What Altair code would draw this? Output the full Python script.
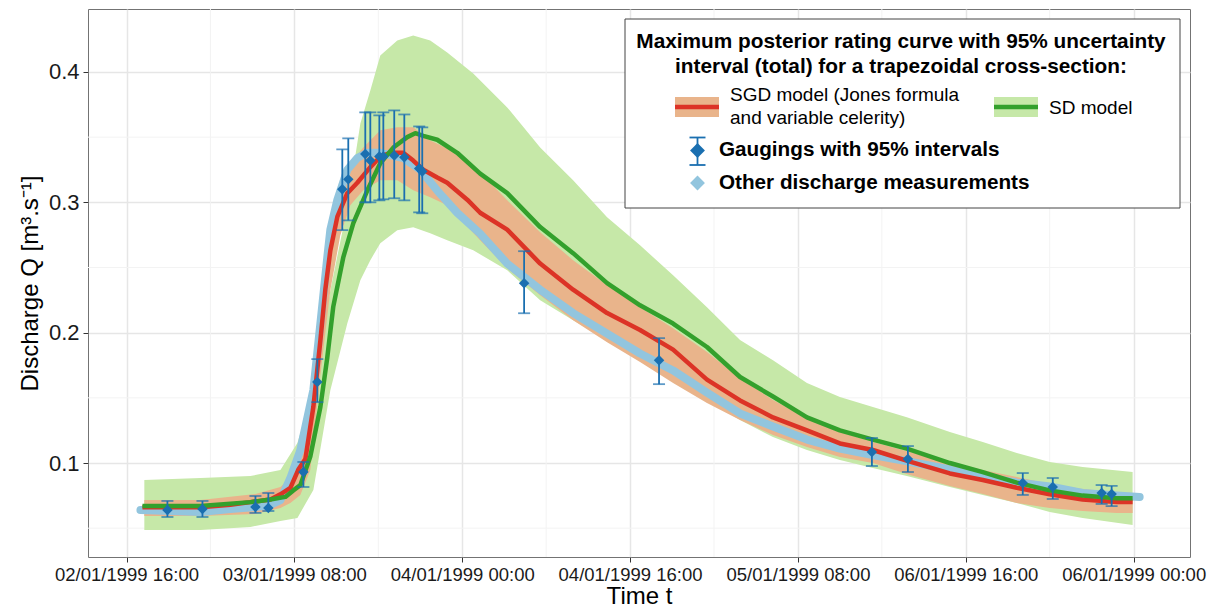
import altair as alt
import pandas as pd

# ---------------- data (time in hours since 02/01/1999 00:00, discharge in m3/s) -------------
x_tick_values = [16, 32, 48, 64, 80, 96, 112]
x_tick_labels = ["02/01/1999 16:00", "03/01/1999 08:00", "04/01/1999 00:00",
                 "04/01/1999 16:00", "05/01/1999 08:00", "06/01/1999 16:00",
                 "06/01/1999 00:00"]
x_minor = [24, 40, 56, 72, 88, 104]
y_tick_values = [0.1, 0.2, 0.3, 0.4]
y_minor = [0.05, 0.15, 0.25, 0.35]

# SD model 95% band
sd_band_t = [17.7, 23.05, 27.81, 30.67, 32.29, 33.81, 35.43, 37.05, 38.29, 39.24, 40.19, 41.81,
             43.33, 44.95, 46.57, 49.05, 52.29, 55.43, 58.57, 61.81, 64.95, 68.10, 71.33, 74.48,
             77.62, 80.86, 84.00, 87.14, 90.38, 94.48, 97.62, 100.86, 104.00, 107.14, 111.90]
sd_band_hi = [0.0870, 0.0885, 0.0900, 0.0946, 0.1153, 0.1559, 0.2326, 0.2962, 0.3605, 0.3858,
              0.4126, 0.4241, 0.4280, 0.4241, 0.4149, 0.3989, 0.3728, 0.3421, 0.3169, 0.2885,
              0.2670, 0.2441, 0.2195, 0.1943, 0.1789, 0.1613, 0.1506, 0.1429, 0.1352, 0.1238,
              0.1161, 0.1077, 0.1008, 0.0969, 0.0931]
sd_band_lo = [0.0487, 0.0487, 0.0510, 0.0556, 0.0579, 0.0793, 0.1559, 0.2073, 0.2402, 0.2556,
              0.2686, 0.2785, 0.2808, 0.2762, 0.2709, 0.2632, 0.2479, 0.2249, 0.2096, 0.1943,
              0.1789, 0.1659, 0.1483, 0.1330, 0.1199, 0.1100, 0.1023, 0.0962, 0.0900, 0.0816,
              0.0755, 0.0693, 0.0625, 0.0579, 0.0525]

# SGD model 95% band
sgd_band_t = [17.7, 23.05, 28.29, 30.67, 31.62, 32.57, 33.52, 34.48, 35.43, 36.38, 37.33, 38.57,
              40.19, 41.81, 43.33, 44.95, 46.57, 49.71, 52.29, 55.43, 58.57, 61.81, 64.95, 68.10,
              71.33, 74.48, 77.62, 80.86, 84.00, 87.14, 90.67, 94.48, 97.62, 100.86, 104.00,
              107.14, 110.38, 111.90]
sgd_band_hi = [0.0716, 0.0716, 0.0762, 0.0816, 0.0885, 0.1061, 0.1330, 0.2096, 0.2785, 0.3130,
               0.3299, 0.3421, 0.3552, 0.3575, 0.3575, 0.3475, 0.3414, 0.3230, 0.3015, 0.2770,
               0.2556, 0.2364, 0.2195, 0.2034, 0.1851, 0.1651, 0.1483, 0.1345, 0.1238, 0.1161,
               0.1084, 0.1008, 0.0946, 0.0893, 0.0839, 0.0801, 0.0778, 0.0770]
sgd_band_lo = [0.0594, 0.0594, 0.0609, 0.0655, 0.0693, 0.0755, 0.0946, 0.1674, 0.2326, 0.2747,
               0.2977, 0.3092, 0.3169, 0.3169, 0.3092, 0.3038, 0.2977, 0.2709, 0.2494, 0.2287,
               0.2096, 0.1927, 0.1774, 0.1613, 0.1460, 0.1330, 0.1215, 0.1123, 0.1046, 0.1000,
               0.0908, 0.0824, 0.0762, 0.0693, 0.0655, 0.0632, 0.0617, 0.0617]

# Other discharge measurements
obs_t = [17.33, 20.19, 23.05, 25.90, 28.29, 29.71, 30.67, 31.62, 32.57, 33.81, 34.48, 35.14,
         35.43, 36.10, 37.05, 38.00, 38.95, 40.19, 42.38, 44.00, 45.62, 47.52, 49.71, 52.29,
         55.43, 58.57, 64.95, 68.10, 71.33, 74.48, 77.62, 80.86, 84.00, 87.14, 90.67, 94.48,
         97.62, 100.86, 104.00, 107.14, 110.38, 112.57]
obs_q = [0.0639, 0.0632, 0.0625, 0.0648, 0.0663, 0.0678, 0.0716, 0.0885, 0.1100, 0.1560, 0.2070,
         0.2580, 0.2790, 0.3020, 0.3250, 0.3340, 0.3380, 0.3380, 0.3340, 0.3250, 0.3090, 0.2920,
         0.2760, 0.2530, 0.2330, 0.2150, 0.1840, 0.1710, 0.1540, 0.1380, 0.1280, 0.1180, 0.1110,
         0.1060, 0.1010, 0.0950, 0.0890, 0.0850, 0.0820, 0.0770, 0.0750, 0.0740]

# SGD model (maximum posterior)
sgd_t = [17.52, 20.19, 23.05, 25.90, 27.81, 29.71, 30.67, 31.62, 32.38, 33.05, 33.81, 34.48,
         34.95, 35.43, 36.10, 37.05, 38.00, 39.24, 40.19, 41.14, 42.38, 43.33, 44.29, 45.62,
         46.57, 48.48, 49.71, 52.29, 55.43, 58.57, 61.81, 64.95, 68.10, 71.33, 74.48, 77.62,
         80.86, 84.00, 87.14, 90.67, 94.48, 97.62, 100.86, 104.00, 107.14, 110.38, 111.90]
sgd_q = [0.066, 0.066, 0.066, 0.068, 0.070, 0.072, 0.076, 0.081, 0.095, 0.103, 0.143, 0.194,
         0.233, 0.263, 0.289, 0.307, 0.315, 0.327, 0.335, 0.338, 0.338, 0.332, 0.325, 0.319,
         0.315, 0.302, 0.292, 0.279, 0.253, 0.233, 0.215, 0.202, 0.187, 0.164, 0.148, 0.135,
         0.125, 0.115, 0.110, 0.101, 0.092, 0.087, 0.081, 0.076, 0.072, 0.070, 0.070]

# SD model (maximum posterior)
sd_t = [17.52, 23.05, 27.81, 29.71, 31.14, 31.90, 32.57, 33.52, 34.48, 35.14, 35.71, 36.67,
        37.62, 38.95, 40.19, 41.43, 42.76, 43.52, 44.29, 45.62, 47.52, 49.71, 52.29, 55.43,
        58.57, 61.81, 64.95, 68.10, 71.33, 74.48, 77.62, 80.86, 84.00, 87.14, 90.38, 94.48,
        97.62, 100.86, 104.00, 107.14, 110.38, 111.90]
sd_q = [0.067, 0.067, 0.070, 0.072, 0.074, 0.079, 0.083, 0.105, 0.143, 0.181, 0.220, 0.258,
        0.284, 0.309, 0.330, 0.342, 0.350, 0.353, 0.351, 0.348, 0.338, 0.322, 0.307, 0.281,
        0.261, 0.238, 0.221, 0.207, 0.189, 0.166, 0.151, 0.135, 0.125, 0.118, 0.111, 0.100,
        0.093, 0.085, 0.079, 0.075, 0.073, 0.073]

# Gaugings with 95% intervals
gauge_t = [19.90, 23.24, 28.29, 29.52, 32.86, 34.19, 36.57, 37.14, 38.76, 39.24, 40.10, 40.48,
           41.52, 42.48, 43.90, 44.19, 53.90, 66.76, 87.05, 90.48, 101.43, 104.29, 108.95, 109.90]
gauge_q = [0.0640, 0.0648, 0.0663, 0.0655, 0.0931, 0.1621, 0.3100, 0.3176, 0.3370, 0.3320,
           0.3352, 0.3352, 0.3360, 0.3345, 0.3260, 0.3237, 0.2379, 0.1789, 0.1084, 0.1031,
           0.0847, 0.0816, 0.0770, 0.0762]
gauge_lo = [0.0586, 0.0586, 0.0617, 0.0632, 0.0816, 0.1467, 0.2786, 0.2862, 0.3000, 0.3000,
            0.3015, 0.3023, 0.3031, 0.3015, 0.2923, 0.2916, 0.2149, 0.1605, 0.0977, 0.0931,
            0.0755, 0.0724, 0.0686, 0.0670]
gauge_hi = [0.0709, 0.0709, 0.0747, 0.0770, 0.1008, 0.1797, 0.3406, 0.3490, 0.3690, 0.3690,
            0.3667, 0.3690, 0.3705, 0.3674, 0.3582, 0.3575, 0.2625, 0.1958, 0.1192, 0.1130,
            0.0923, 0.0885, 0.0831, 0.0824]

legend_title = ["Maximum posterior rating curve with 95% uncertainty",
                "interval (total) for a trapezoidal cross-section:"]
legend_sgd = ["SGD model (Jones formula", "and variable celerity)"]
legend_sd = "SD model"
legend_gauge = "Gaugings with 95% intervals"
legend_obs = "Other discharge measurements"

# ---------------- styling ----------------
FONT = "Liberation Sans"
C_GREEN_BAND = "#c6e8a8"
C_ORANGE_BAND = "#e9b48b"
C_RED = "#dc3326"
C_GREEN = "#33a02c"
C_LBLUE = "#92c5de"
C_DBLUE = "#1a6fb0"

W, H = 1102, 548

label_expr = "''"
for v, lab in reversed(list(zip(x_tick_values, x_tick_labels))):
    label_expr = f"(abs(datum.value - {v}) < 0.01) ? '{lab}' : ({label_expr})"

xs = alt.Scale(domain=[12.33, 117.37], nice=False, zero=False)
ys = alt.Scale(domain=[0.0279, 0.4483], nice=False, zero=False)

x_axis = alt.Axis(values=x_tick_values, labelExpr=label_expr, title="Time t",
                  labelFontSize=18.5, titleFontSize=24, labelPadding=3, titlePadding=1,
                  labelFlush=False, labelOverlap=False)
y_axis = alt.Axis(values=y_tick_values, format=".1f", title="Discharge Q [m³.s⁻¹]",
                  labelFontSize=22, titleFontSize=24, labelPadding=4, titlePadding=6)


def X(f):
    return alt.X(f"{f}:Q", scale=xs, axis=x_axis)


def Y(f):
    return alt.Y(f"{f}:Q", scale=ys, axis=y_axis)


minor_x = alt.Chart(pd.DataFrame({"t": x_minor})).mark_rule(
    color="#f3f3f3", strokeWidth=1).encode(x=X("t"))
minor_y = alt.Chart(pd.DataFrame({"q": y_minor})).mark_rule(
    color="#f3f3f3", strokeWidth=1).encode(y=Y("q"))

sd_band = alt.Chart(pd.DataFrame({"t": sd_band_t, "lo": sd_band_lo, "hi": sd_band_hi})).mark_area(
    color=C_GREEN_BAND, opacity=1).encode(x=X("t"), y=Y("lo"), y2=alt.Y2("hi:Q"))
sgd_band = alt.Chart(pd.DataFrame({"t": sgd_band_t, "lo": sgd_band_lo, "hi": sgd_band_hi})).mark_area(
    color=C_ORANGE_BAND, opacity=1).encode(x=X("t"), y=Y("lo"), y2=alt.Y2("hi:Q"))

obs = alt.Chart(pd.DataFrame({"t": obs_t, "q": obs_q})).mark_line(
    color=C_LBLUE, strokeWidth=8, strokeJoin="round", strokeCap="round").encode(x=X("t"), y=Y("q"))

sgd_line = alt.Chart(pd.DataFrame({"t": sgd_t, "q": sgd_q})).mark_line(
    color=C_RED, strokeWidth=4.5, strokeJoin="round").encode(x=X("t"), y=Y("q"))
sd_line = alt.Chart(pd.DataFrame({"t": sd_t, "q": sd_q})).mark_line(
    color=C_GREEN, strokeWidth=4.5, strokeJoin="round").encode(x=X("t"), y=Y("q"))

gdf = pd.DataFrame({"t": gauge_t, "q": gauge_q, "lo": gauge_lo, "hi": gauge_hi})
g_base = alt.Chart(gdf)
g_bar = g_base.mark_rule(color=C_DBLUE, strokeWidth=1.8).encode(x=X("t"), y=Y("lo"), y2=alt.Y2("hi:Q"))
g_cap_lo = g_base.mark_tick(color=C_DBLUE, orient="horizontal", size=12, thickness=1.8).encode(
    x=X("t"), y=Y("lo"))
g_cap_hi = g_base.mark_tick(color=C_DBLUE, orient="horizontal", size=12, thickness=1.8).encode(
    x=X("t"), y=Y("hi"))
g_pt = g_base.mark_point(shape="diamond", filled=True, size=110, color=C_DBLUE, opacity=1).encode(
    x=X("t"), y=Y("q"))

# ---------------- legend (drawn inside the plot area) ----------------
one = pd.DataFrame({"k": [0]})
lg = alt.Chart(one)
lg_box = lg.mark_rect(fill="white", stroke="#444444", strokeWidth=1).encode(
    x=alt.value(537), x2=alt.value(1092), y=alt.value(10), y2=alt.value(199))


def txt(s, x, y, size, weight="normal", align="left"):
    return lg.mark_text(text=s, font=FONT, fontSize=size, fontWeight=weight, align=align,
                        baseline="middle", color="#000000").encode(x=alt.value(x), y=alt.value(y))


lg_t1 = txt(legend_title[0], 813, 33, 20.8, "bold", "center")
lg_t2 = txt(legend_title[1], 813, 58, 20.8, "bold", "center")
lg_sgd_sw = lg.mark_rect(fill=C_ORANGE_BAND).encode(
    x=alt.value(587), x2=alt.value(631), y=alt.value(88), y2=alt.value(108))
lg_sgd_ln = lg.mark_rule(color=C_RED, strokeWidth=4.5).encode(
    x=alt.value(587), x2=alt.value(631), y=alt.value(98))
lg_sgd_t1 = txt(legend_sgd[0], 642, 86, 19)
lg_sgd_t2 = txt(legend_sgd[1], 642, 109, 19)
lg_sd_sw = lg.mark_rect(fill=C_GREEN_BAND).encode(
    x=alt.value(906), x2=alt.value(950), y=alt.value(88), y2=alt.value(108))
lg_sd_ln = lg.mark_rule(color=C_GREEN, strokeWidth=4.5).encode(
    x=alt.value(906), x2=alt.value(950), y=alt.value(98))
lg_sd_t = txt(legend_sd, 961, 99, 19)
lg_g_bar = lg.mark_rule(color=C_DBLUE, strokeWidth=1.8).encode(
    x=alt.value(609.5), y=alt.value(128.5), y2=alt.value(156))
lg_g_cap1 = lg.mark_rule(color=C_DBLUE, strokeWidth=1.8).encode(
    x=alt.value(601.5), x2=alt.value(617.5), y=alt.value(128.5))
lg_g_cap2 = lg.mark_rule(color=C_DBLUE, strokeWidth=1.8).encode(
    x=alt.value(601.5), x2=alt.value(617.5), y=alt.value(156))
lg_g_pt = lg.mark_point(shape="diamond", filled=True, size=220, color=C_DBLUE, opacity=1).encode(
    x=alt.value(609.5), y=alt.value(141.5))
lg_g_t = txt(legend_gauge, 631, 141, 20.7, "bold")
lg_o_pt = lg.mark_point(shape="diamond", filled=True, size=220, color=C_LBLUE, opacity=1).encode(
    x=alt.value(609.5), y=alt.value(174))
lg_o_t = txt(legend_obs, 631, 174, 20.7, "bold")

chart = alt.layer(
    minor_x, minor_y, sd_band, sgd_band, obs, sgd_line, sd_line,
    g_bar, g_cap_lo, g_cap_hi, g_pt,
    lg_box, lg_t1, lg_t2, lg_sgd_sw, lg_sgd_ln, lg_sgd_t1, lg_sgd_t2,
    lg_sd_sw, lg_sd_ln, lg_sd_t, lg_g_bar, lg_g_cap1, lg_g_cap2, lg_g_pt, lg_g_t,
    lg_o_pt, lg_o_t,
).properties(
    width=W, height=H,
    padding={"left": 80, "top": 1, "right": 23, "bottom": 55},
    autosize=alt.AutoSizeParams(type="none"),
).configure(font=FONT).configure_view(
    stroke="#737373", strokeWidth=1
).configure_axis(
    domain=False, grid=True, gridColor="#e6e6e6", gridWidth=1.5,
    tickColor="#333333", tickSize=5, tickWidth=1,
    labelColor="#1a1a1a", titleColor="#000000", titleFontWeight="normal",
    labelFont=FONT, titleFont=FONT,
)

chart.save("out.html", embed_options={"renderer": "svg", "actions": False})
